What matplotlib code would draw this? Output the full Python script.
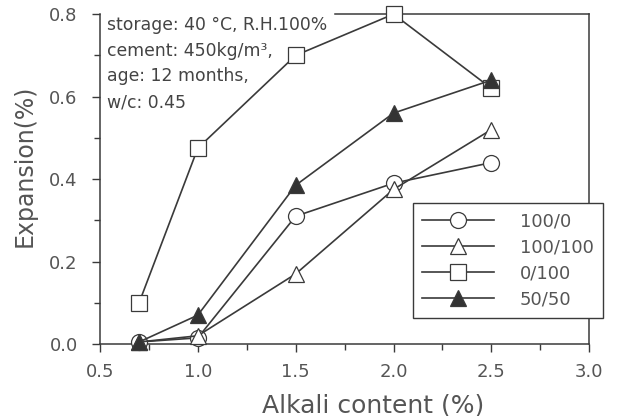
import matplotlib.pyplot as plt
from matplotlib.ticker import MultipleLocator

plt.rcParams['font.family'] = ['DejaVu Sans']

alkali = [0.7, 1.0, 1.5, 2.0, 2.5]
exp_100_0 = [0.005, 0.015, 0.31, 0.39, 0.44]
exp_100_100 = [0.005, 0.02, 0.17, 0.375, 0.52]
exp_0_100 = [0.10, 0.475, 0.70, 0.80, 0.62]
exp_50_50 = [0.005, 0.07, 0.385, 0.56, 0.64]

labels = ['100/0', '100/100', '0/100', '50/50']
markers = ['o', '^', 's', '^']
faces = ['white', 'white', 'white', '#333333']

ink = '#3a3a3a'
txt = '#555555'
fig = plt.figure(figsize=(6.17, 4.16), dpi=100)
ax = fig.add_axes([0.162, 0.173, 0.793, 0.793])

for ys, lab, m, fc in zip([exp_100_0, exp_100_100, exp_0_100, exp_50_50], labels, markers, faces):
    ax.plot(alkali, ys, color=ink, lw=1.2, marker=m, markersize=11.5,
            markerfacecolor=fc, markeredgecolor=ink, markeredgewidth=0.9,
            label=lab, clip_on=False, zorder=3)

ax.set_xlim(0.5, 3.0)
ax.set_ylim(0.0, 0.8)
ax.xaxis.set_major_locator(MultipleLocator(0.5))
ax.xaxis.set_minor_locator(MultipleLocator(0.25))
ax.yaxis.set_major_locator(MultipleLocator(0.2))
ax.yaxis.set_minor_locator(MultipleLocator(0.1))
ax.tick_params(which='major', direction='out', length=6, width=1, colors=ink,
               labelsize=13, labelcolor=txt)
ax.tick_params(axis='x', which='major', pad=8)
ax.tick_params(axis='y', which='major', pad=10)
ax.tick_params(which='minor', direction='out', length=4, width=1, colors=ink)
for s in ax.spines.values():
    s.set_color(ink)
    s.set_linewidth(1.1)

# top border is only drawn to the right of the note
ax.spines['top'].set_visible(False)
ax.axhline(0.8, xmin=0.48, xmax=1.0, color=ink, lw=1.1, clip_on=False, zorder=2)

ax.set_xlabel('Alkali content (%)', fontsize=18, color=txt, va='center')
ax.xaxis.set_label_coords(0.558, -0.185)
ax.set_ylabel('Expansion(%)', fontsize=17, color=txt, va='center')
ax.yaxis.set_label_coords(-0.153, 0.54)

ax.text(0.014, 0.995,
        'storage: 40 °C, R.H.100%\ncement: 450kg/m³,\nage: 12 months,\nw/c: 0.45',
        transform=ax.transAxes, ha='left', va='top', fontsize=12.4,
        color='#444444', linespacing=1.56, zorder=4)

leg = ax.legend(loc='upper left', bbox_to_anchor=(0.64, 0.427), fontsize=13,
                handlelength=4.0, borderpad=0.5, labelspacing=0.45,
                handletextpad=1.4, fancybox=False, framealpha=1,
                edgecolor=ink, borderaxespad=0)
leg.get_frame().set_linewidth(1.0)
for t in leg.get_texts():
    t.set_color(txt)
leg.set_zorder(5)

fig.savefig('out.png', dpi=100)
